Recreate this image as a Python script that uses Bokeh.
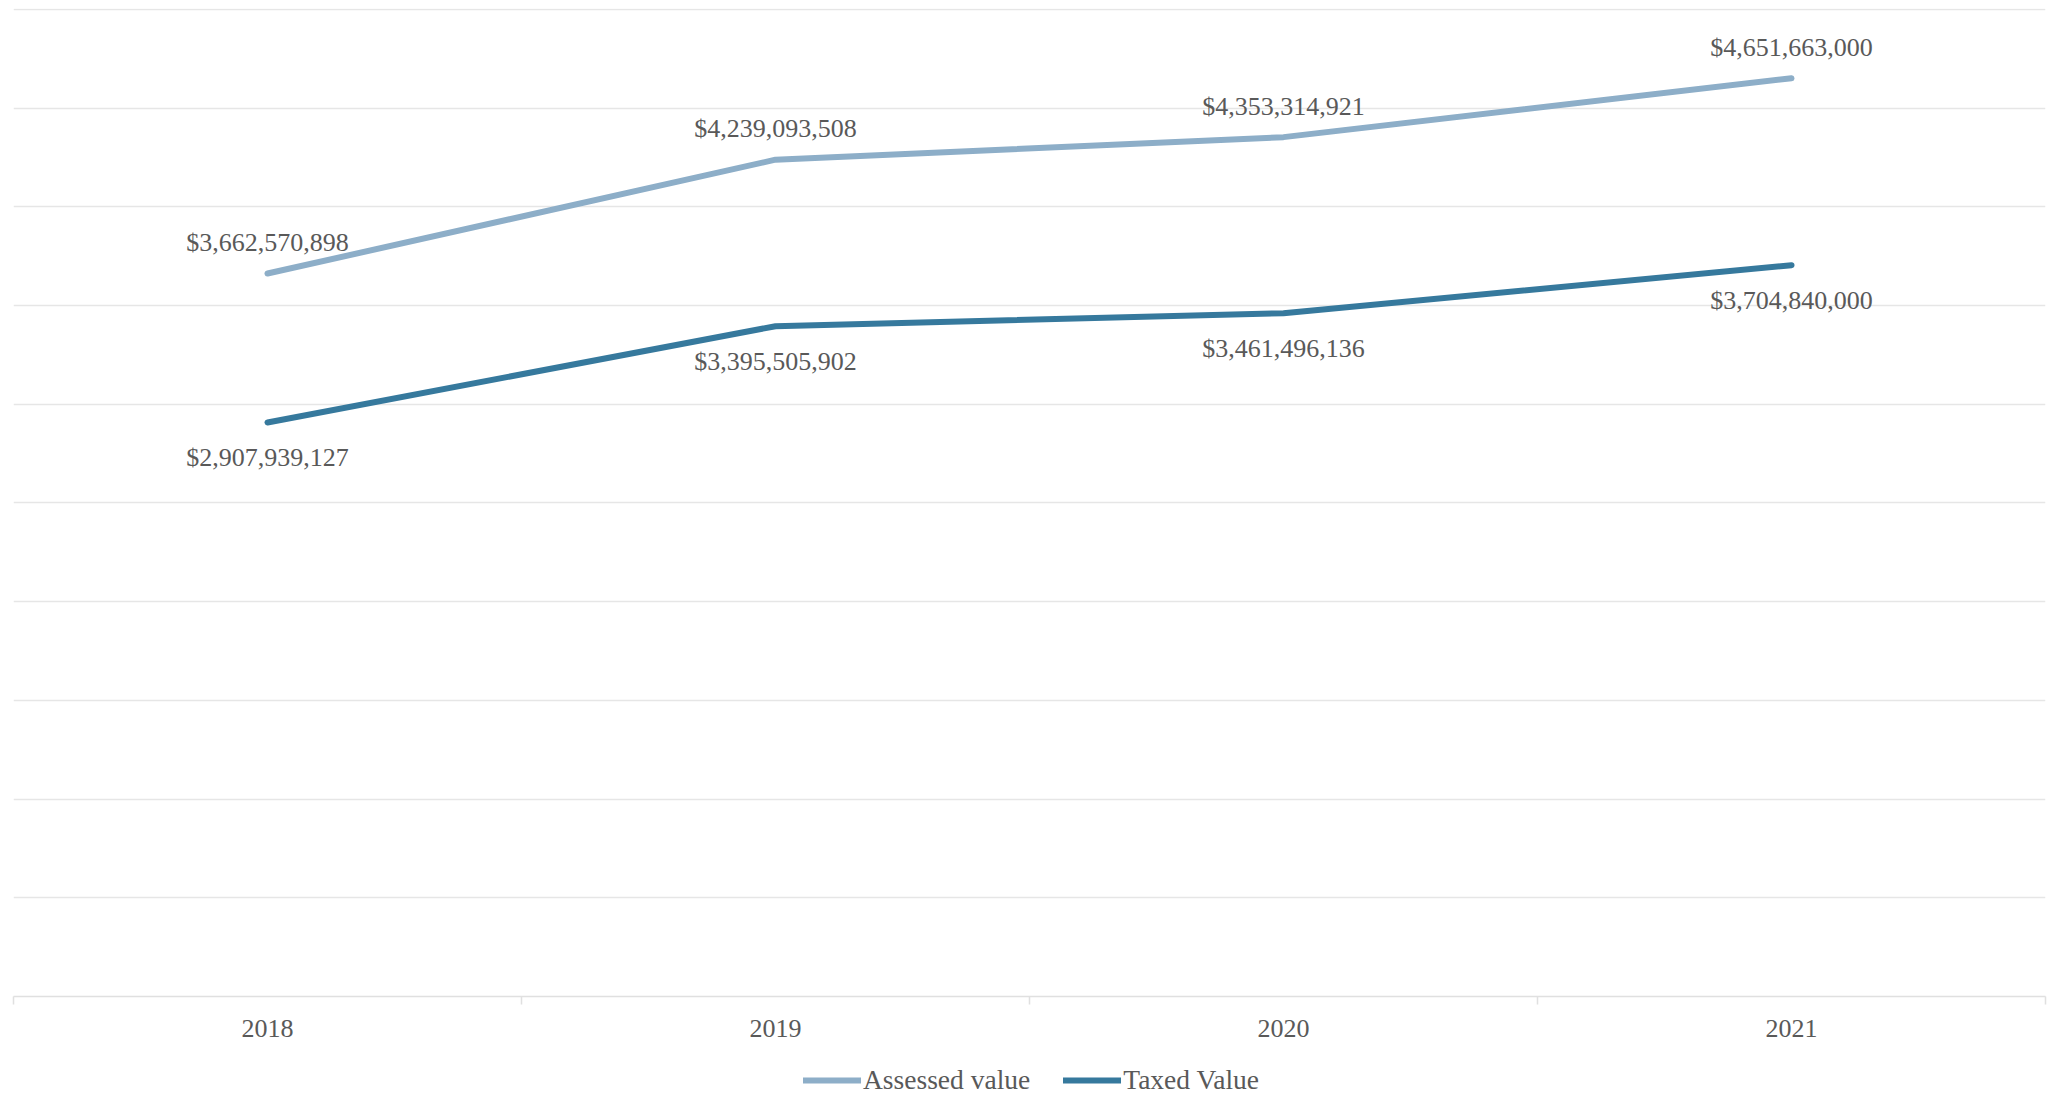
from bokeh.plotting import figure
from bokeh.layouts import column
from bokeh.models import (Range1d, FixedTicker, Legend, LegendItem, LinearAxis,
                          ColumnDataSource, SingleIntervalTicker)
from bokeh.core.properties import value
from bokeh.embed import file_html
from bokeh.resources import INLINE

years = ["2018", "2019", "2020", "2021"]
assessed = [3662570898, 4239093508, 4353314921, 4651663000]
taxed = [2907939127, 3395505902, 3461496136, 3704840000]
series_names = ["Assessed value", "Taxed Value"]

FONT = "Liberation Serif"
TEXT_COLOR = "#595959"
LIGHT = "#8DAEC8"
DARK = "#36799D"
LW = 6

xs = [i + 0.5 for i in range(len(years))]

p = figure(width=2047, height=1058, output_backend="svg", toolbar_location=None,
           x_range=Range1d(0, len(years)), y_range=Range1d(0, 5.005e9),
           x_axis_location=None, y_axis_location=None,
           min_border_left=13, min_border_right=2, min_border_top=8,
           min_border_bottom=62)
p.outline_line_color = None
p.xgrid.visible = False
p.ygrid.ticker = SingleIntervalTicker(interval=5e8)
p.ygrid.grid_line_color = "#E6E6E6"
p.ygrid.grid_line_width = 1.5

xaxis = LinearAxis(ticker=FixedTicker(ticks=xs, minor_ticks=list(range(len(years) + 1))),
                   major_label_overrides={x: y for x, y in zip(xs, years)})
xaxis.axis_line_color = "#E0E0E0"
xaxis.axis_line_width = 1.5
xaxis.major_tick_line_color = None
xaxis.major_tick_out = 0
xaxis.major_tick_in = 0
xaxis.minor_tick_line_color = "#E0E0E0"
xaxis.minor_tick_line_width = 1.5
xaxis.minor_tick_out = 8
xaxis.minor_tick_in = 0
xaxis.major_label_standoff = 15
xaxis.major_label_text_font = FONT
xaxis.major_label_text_font_size = "26px"
xaxis.major_label_text_color = TEXT_COLOR
p.add_layout(xaxis, "below")

src = ColumnDataSource(dict(
    x=xs, a=assessed, t=taxed,
    al=["${:,}".format(v) for v in assessed],
    tl=["${:,}".format(v) for v in taxed],
))

p.line("x", "a", source=src, line_color=LIGHT, line_width=LW, line_cap="round", line_join="round")
p.line("x", "t", source=src, line_color=DARK, line_width=LW, line_cap="round", line_join="round")

p.text("x", "a", text="al", source=src, text_align="center", text_baseline="middle",
       y_offset=-31, text_font=value(FONT), text_font_size="26px", text_color=TEXT_COLOR)
p.text("x", "t", text="tl", source=src, text_align="center", text_baseline="middle",
       y_offset=35, text_font=value(FONT), text_font_size="26px", text_color=TEXT_COLOR)

# legend strip below the chart (proxy renderers carry the legend keys)
lg = figure(width=2047, height=36, output_backend="svg", toolbar_location=None,
            x_range=Range1d(0, 1), y_range=Range1d(0, 1),
            x_axis_location=None, y_axis_location=None,
            min_border_left=0, min_border_right=0, min_border_top=0, min_border_bottom=0)
lg.outline_line_color = None
lg.grid.visible = False
nan = float("nan")
d1 = lg.line(x=[nan], y=[nan], line_color=LIGHT, line_width=LW, line_cap="round")
d2 = lg.line(x=[nan], y=[nan], line_color=DARK, line_width=LW, line_cap="round")
legend = Legend(items=[LegendItem(label=series_names[0], renderers=[d1]),
                       LegendItem(label=series_names[1], renderers=[d2])],
                orientation="horizontal", location=(790, -2),
                glyph_width=58, glyph_height=24, label_standoff=2, spacing=33,
                padding=0, margin=0, border_line_color=None, background_fill_alpha=0,
                label_text_font=FONT, label_text_font_size="27.5px",
                label_text_color=TEXT_COLOR)
lg.add_layout(legend, "center")

layout = column(p, lg, spacing=0)
open("out.html", "w").write(file_html(layout, INLINE))
